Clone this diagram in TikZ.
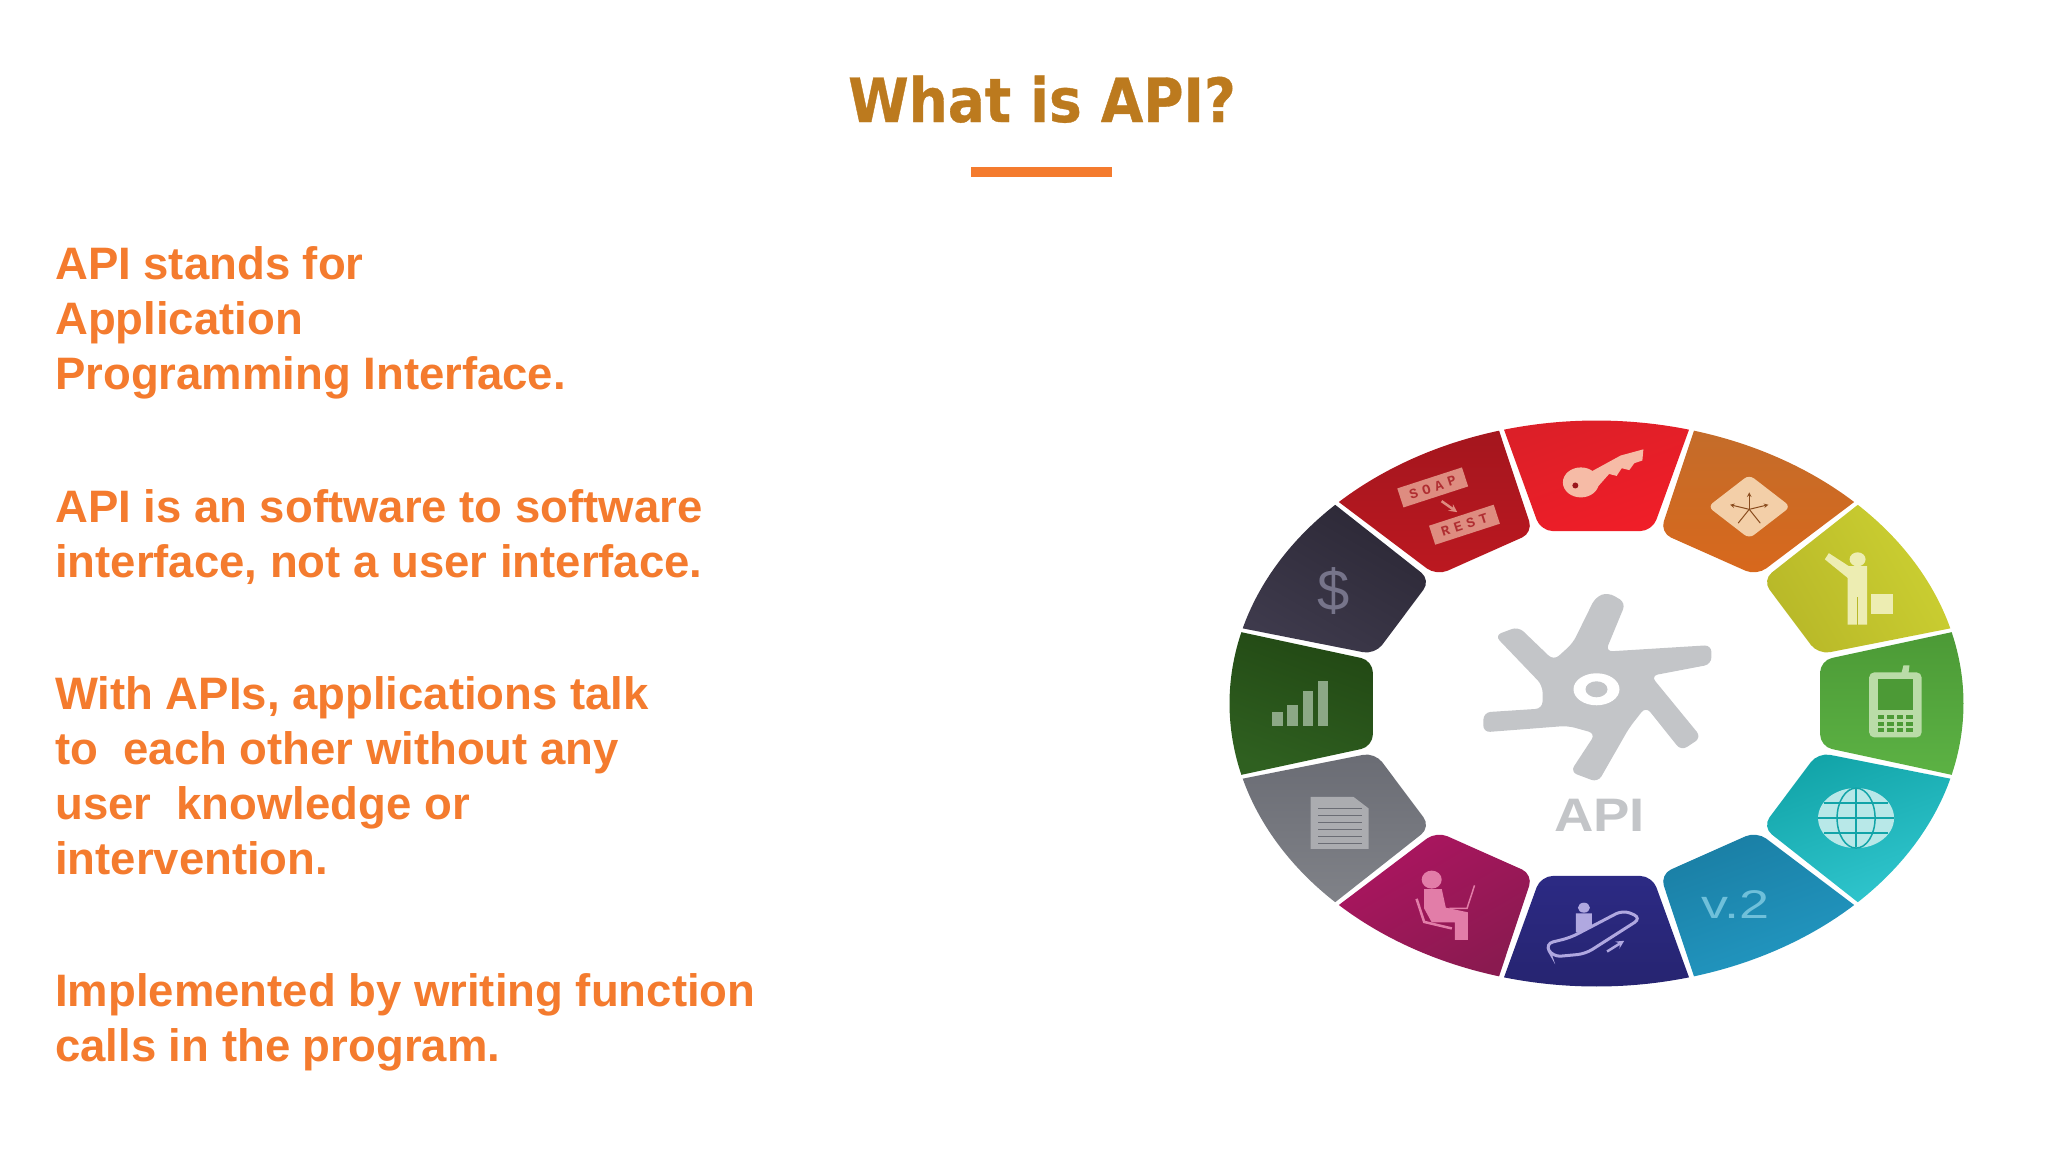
\documentclass[tikz,border=0pt]{standalone}
\usepackage{fontspec}
\usepackage[dvipsnames]{xcolor}
\usepackage{tikz}
\setmainfont{Liberation Sans}
\newfontfamily\titlefont{DejaVu Sans}[FakeStretch=0.9,BoldFeatures={FakeBold=0.6}]
\newfontfamily\boxfont{Liberation Mono}[LetterSpace=35]
\definecolor{titlebrown}{HTML}{BC7A1E}
\definecolor{bodyorange}{HTML}{F47B2E}
\definecolor{hubgray}{HTML}{C3C5C8}
\definecolor{redA}{HTML}{DC1F28}\definecolor{redB}{HTML}{F01E28}
\definecolor{orangeA}{HTML}{C46C2A}\definecolor{orangeB}{HTML}{D8681C}
\definecolor{limeA}{HTML}{CCD032}\definecolor{limeB}{HTML}{B8B828}
\definecolor{greenA}{HTML}{4C9A36}\definecolor{greenB}{HTML}{5CB244}
\definecolor{tealA}{HTML}{12A4A8}\definecolor{tealB}{HTML}{30C6CE}
\definecolor{blueA}{HTML}{1A7EA4}\definecolor{blueB}{HTML}{2298C2}
\definecolor{navyA}{HTML}{2C2A84}\definecolor{navyB}{HTML}{262470}
\definecolor{plumA}{HTML}{AC1560}\definecolor{plumB}{HTML}{8A1A50}
\definecolor{slateA}{HTML}{6A6C74}\definecolor{slateB}{HTML}{808288}
\definecolor{forestA}{HTML}{2F6020}\definecolor{forestB}{HTML}{224814}
\definecolor{inkA}{HTML}{3E3A4C}\definecolor{inkB}{HTML}{2C2836}
\definecolor{wineA}{HTML}{A4161E}\definecolor{wineB}{HTML}{BC1820}
\definecolor{keytint}{HTML}{F6BBA6}
\definecolor{signtint}{HTML}{F3CFA8}
\definecolor{limetint}{HTML}{EDEDB2}
\definecolor{phonetint}{HTML}{BADCA8}
\definecolor{globetint}{HTML}{B8E8E8}
\definecolor{versiontint}{HTML}{6FC0DA}
\definecolor{stairtint}{HTML}{B0A8E0}
\definecolor{plumtint}{HTML}{E27DA8}
\definecolor{doctint}{HTML}{ABACB0}
\definecolor{bartint}{HTML}{8CA886}
\definecolor{inktint}{HTML}{76748A}
\definecolor{winetint}{HTML}{DE8C80}
\tikzset{
  bodytext/.style={anchor=north west,align=left,inner sep=0pt,text=bodyorange,
                   font=\fontsize{45.5}{54.9}\selectfont\bfseries},
  boxlabel/.style={fill=winetint,inner sep=0pt,minimum width=68pt,minimum height=20pt,rotate=18,
                   text=wineA!80!winetint,font=\boxfont\fontsize{14}{14}\selectfont\bfseries}
}
\begin{document}
\begin{tikzpicture}[x=1pt,y=-1pt]
  \path[use as bounding box] (0,0) rectangle (2048,1152);

  \node[text=titlebrown,font=\titlefont\fontsize{61}{61}\selectfont\bfseries,anchor=base,inner sep=0pt]
       (title) at (1042,122) {What is API?};
  \node[fill=bodyorange,minimum width=141pt,minimum height=10pt,inner sep=0pt]
       (titlebar) at (1041.5,171.7) {};

  \node[bodytext] (stands) at (55,246.6) {API stands for\\Application\\Programming Interface.};
  \node[bodytext] (software) at (55,489.3) {API is an software to software\\interface, not a user interface.};
  \node[bodytext] (talk) at (55,676.2) {With APIs, applications talk\\to\ \ each other without any\\user\ \ knowledge or\\intervention.};
  \node[bodytext] (calls) at (55,973.7) {Implemented by writing function\\calls in the program.};

  \begin{scope}[shift={(1596.5,703.5)},x=367pt,y=283pt]
    \foreach \ang/\cola/\colb/\tilt in {
        90/redA/redB/20, 60/orangeA/orangeB/0, 30/limeA/limeB/-60, 0/greenA/greenB/0,
        -30/tealA/tealB/20, -60/blueA/blueB/20, -90/navyA/navyB/0, -120/plumA/plumB/30,
        -150/slateA/slateB/0, 180/forestB/forestA/-20, 150/inkB/inkA/-30, 120/wineA/wineB/0} {
      \path[left color=\cola,right color=\colb,shading angle=\tilt]
        (\ang-14.6:1) arc[start angle=\ang-14.6,end angle=\ang+14.6,x radius=367pt,y radius=283pt]
        [rounded corners=12pt] -- (\ang+14:.628) -- (\ang-14:.628) [sharp corners] -- cycle;
    }
  \end{scope}

  \begin{scope}[shift={(1596.5,703.5)},x=.504pt,y=-.3845pt,shift={(-747,-767)}]
    % hub
    \fill[hubgray,rounded corners=7pt] (745,490) -- (700,610) -- (662,655) -- (592,567) -- (545,590)
      -- (640,720) -- (640,780) -- (523,790) -- (522,842) -- (690,825) -- (745,845) -- (695,945)
      -- (750,972) -- (812,830) -- (845,775) -- (915,890) -- (955,855) -- (855,695) -- (975,665)
      -- (975,615) -- (765,632) -- (805,505) -- (770,478) -- cycle;
    \fill[white] (747,730) circle[x radius=23pt,y radius=16pt];
    \fill[hubgray] (747,730) circle[x radius=11pt,y radius=8pt];
    \node[text=hubgray,font=\fontsize{47}{47}\selectfont\bfseries,inner sep=0pt] (apilabel) at (753,1058)
      {\scalebox{1.16}[1]{API}};

    % key
    \fill[keytint] (716,192) circle[x radius=18pt,y radius=15pt];
    \fill[keytint] (735,165) -- (795,122) -- (840,106) -- (838,135) -- (822,142) -- (812,160)
      -- (797,155) -- (787,175) -- (772,170) -- (745,210) -- cycle;
    \fill[redA!70!black] (705,200) circle (3pt);

    % junction sign
    \fill[signtint,rounded corners=6pt] (1050,172) -- (1132,255) -- (1050,338) -- (968,255) -- cycle;
    \draw[orangeA!70!black,line width=1pt,-stealth] (1050,262) -- (1050,218);
    \draw[orangeA!70!black,line width=1pt,-stealth] (1050,262) -- (1088,250);
    \draw[orangeA!70!black,line width=1pt,-stealth] (1050,262) -- (1012,250);
    \draw[orangeA!70!black,line width=1pt] (1050,262) -- (1028,298);
    \draw[orangeA!70!black,line width=1pt] (1050,262) -- (1072,298);

    % traveller
    \fill[limetint] (1265,392) circle[x radius=8pt,y radius=7pt];
    \fill[limetint] (1208,376) -- (1248,410) -- (1284,410) -- (1284,562) -- (1245,562) -- (1245,440)
      -- (1200,392) -- cycle;
    \fill[limetint] (1292,482) rectangle (1335,535);
    \draw[limeB,line width=1pt] (1265,490) -- (1265,562);

    % phone
    \fill[phonetint,rounded corners=5pt] (1288,686) rectangle (1392,855);
    \fill[phonetint] (1352,688) -- (1356,668) -- (1368,668) -- (1366,688) -- cycle;
    \fill[greenA] (1305,702) rectangle (1375,785);
    \foreach \col in {0,1,2,3} {
      \foreach \row in {0,1,2} {
        \fill[greenA] (1305+\col*19,797+\row*17) rectangle +(13,11);
      }
    }

    % globe
    \fill[globetint] (1262,1065) circle[x radius=38pt,y radius=30pt];
    \draw[tealA,line width=1.5pt] (1262,1065) circle[x radius=19pt,y radius=30pt];
    \draw[tealA,line width=1.5pt] (1262,990) -- (1262,1140);
    \draw[tealA,line width=1.5pt] (1187,1065) -- (1337,1065);
    \draw[tealA,line width=1.5pt] (1198,1026) -- (1326,1026);
    \draw[tealA,line width=1.5pt] (1198,1104) -- (1326,1104);

    % version
    \node[text=versiontint,font=\fontsize{40}{40}\selectfont,inner sep=0pt] (version) at (1022,1290)
      {\scalebox{1.35}[1]{v.2}};

    % escalator
    \draw[stairtint,line width=3pt,rounded corners=8pt] (645,1392) -- (695,1376) -- (800,1304)
      -- (836,1325) -- (725,1418) -- (660,1426) -- cycle;
    \fill[stairtint] (722,1298) circle[x radius=6pt,y radius=5pt];
    \fill[stairtint] (706,1313) -- (738,1313) -- (738,1343) -- (716,1362) -- (706,1362) -- cycle;
    \draw[stairtint,line width=2.5pt,-stealth] (768,1412) -- (802,1384);

    % laptop user
    \fill[plumtint] (420,1225) circle[x radius=10pt,y radius=9pt];
    \fill[plumtint] (405,1250) -- (440,1250) -- (448,1298) -- (492,1310) -- (492,1382) -- (466,1382)
      -- (466,1336) -- (420,1336) -- (405,1300) -- cycle;
    \draw[plumtint,line width=2.5pt] (390,1275) -- (405,1335) -- (460,1352);
    \draw[plumtint,line width=1.5pt] (505,1240) -- (490,1300) -- (455,1300);

    % document
    \fill[doctint] (180,1010) -- (265,1010) -- (295,1040) -- (295,1145) -- (180,1145) -- cycle;
    \foreach \liney in {1040,1058,...,1130} {
      \draw[slateA,line width=1pt] (195,\liney) -- (282,\liney);
    }

    % bars
    \foreach \barx/\bary in {103/790,133/770,164/735,194/708} {
      \fill[bartint] (\barx,\bary) rectangle (\barx+21,825);
    }

    % dollar
    \node[text=inktint,font=\fontsize{58}{58}\selectfont,inner sep=0pt] (dollar) at (225,475) {\$};

    % protocols
    \node[boxlabel] (soap) at (422,205) {SOAP};
    \node[boxlabel] (rest) at (485,302) {REST};
    \draw[winetint,line width=2.5pt,-stealth,shorten <=7pt,shorten >=5pt] (soap.south) -- (rest.north);
  \end{scope}
\end{tikzpicture}
\end{document}
